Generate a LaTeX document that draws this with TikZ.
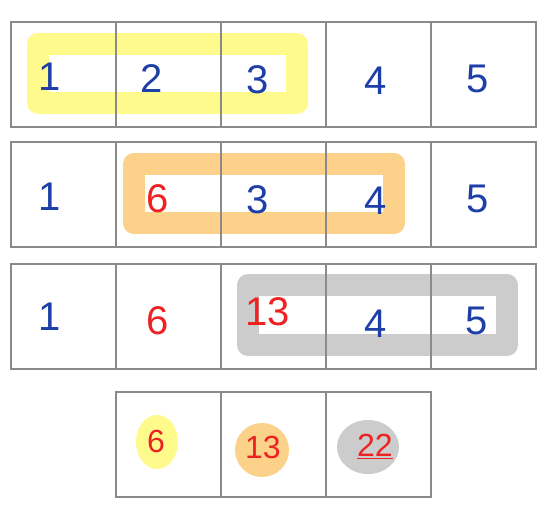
\documentclass[tikz,border=0pt]{standalone}
\usepackage{fontspec}
\setmainfont{Liberation Sans}
\definecolor{gridc}{HTML}{8A8A8A}
\definecolor{inkblue}{HTML}{1F3FA8}
\definecolor{inkred}{HTML}{EE2222}
\definecolor{hlyellow}{HTML}{FFFA8C}
\definecolor{hlorange}{HTML}{FCD18A}
\definecolor{hlgray}{HTML}{CCCCCC}
\begin{document}
\begin{tikzpicture}[x={(0.75pt,0)},y={(0,-0.75pt)},
  cell/.style={draw=gridc,line width=1.2pt,minimum width=78.75pt,minimum height=78.75pt,inner sep=0pt,anchor=north west},
  band/.style={line width=16.5pt,line join=round},
  blue/.style={text=inkblue,font=\fontsize{30}{30}\selectfont,inner sep=0pt},
  red/.style={text=inkred,font=\fontsize{30}{30}\selectfont,inner sep=0pt},
  redsm/.style={text=inkred,font=\fontsize{24}{24}\selectfont,inner sep=0pt}]
\useasboundingbox[fill=white] (0,0) rectangle (540,507);
% highlights
\draw[band,hlyellow] (38,44) rectangle (297,103);
\draw[band,hlorange] (134,164) rectangle (394,223);
\draw[band,hlgray] (248,285) rectangle (507,345);
\fill[hlyellow] (157,442) ellipse [x radius=21pt*0.75, y radius=27pt*0.75];
\fill[hlorange] (262,450) ellipse [x radius=27pt*0.75, y radius=27pt*0.75];
\fill[hlgray] (368,447) ellipse [x radius=31pt*0.75, y radius=27pt*0.75];
% grid
\foreach \r/\y in {a/21,b/141,c/263}{
  \foreach \c/\x in {1/10,2/115,3/220,4/325,5/430}{
    \node[cell] (\r\c) at (\x,\y) {};
  }
}
\foreach \c/\x in {2/115,3/220,4/325}{
  \node[cell] (d\c) at (\x,391) {};
}
% digits
\node[blue] (ta1) at (50,77) {1};
\node[blue] (ta2) at (152,79) {2};
\node[blue] (ta3) at (258,80) {3};
\node[blue] (ta4) at (376,81) {4};
\node[blue] (ta5) at (478,79) {5};
\node[blue] (tb1) at (50,197) {1};
\node[red]  (tb2) at (158,199) {6};
\node[blue] (tb3) at (258,200) {3};
\node[blue] (tb4) at (376,201) {4};
\node[blue] (tb5) at (478,199) {5};
\node[blue] (tc1) at (50,317) {1};
\node[red]  (tc2) at (158,321) {6};
\node[red]  (tc3) at (268,312) {13};
\node[blue] (tc4) at (376,324) {4};
\node[blue] (tc5) at (477,321) {5};
\node[redsm] (td2) at (156,441) {6};
\node[redsm] (td3) at (263,447) {13};
\node[redsm] (td4) at (375,447) {\underline{22}};
\end{tikzpicture}
\end{document}
